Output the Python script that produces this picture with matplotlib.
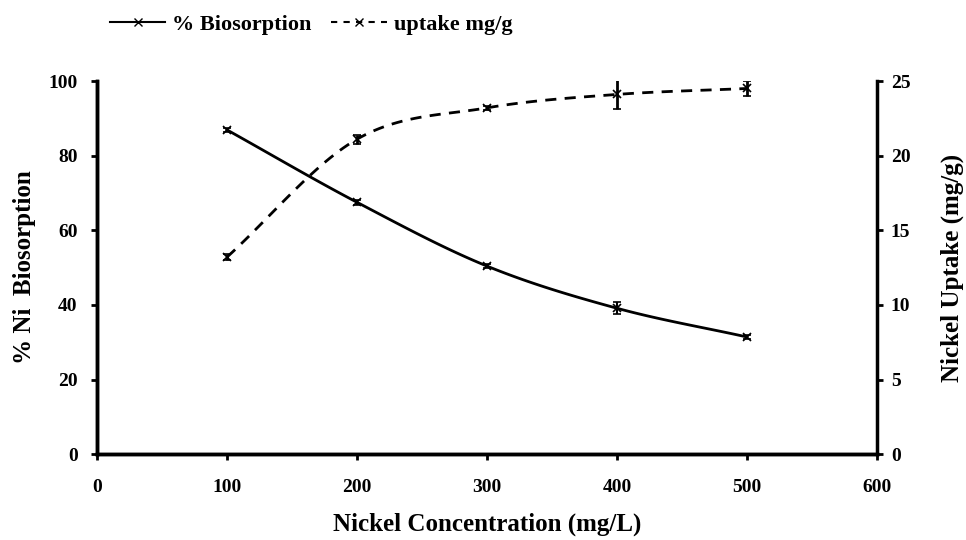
import matplotlib.pyplot as plt
import numpy as np

conc = [100, 200, 300, 400, 500]
biosorption = [86.9, 67.5, 50.4, 39.1, 31.4]
biosorption_err = [0.6, 0.6, 0.5, 1.6, 0.6]
uptake = [13.2, 21.1, 23.2, 24.1, 24.5]
uptake_err = [0.2, 0.3, 0.15, 1.0, 0.5]


def smooth(x, y, n=30):
    # Catmull-Rom curve through the points, like Excel's smoothed line
    x = np.asarray(x, float)
    y = np.asarray(y, float)
    px = np.concatenate([[2 * x[0] - x[1]], x, [2 * x[-1] - x[-2]]])
    py = np.concatenate([[2 * y[0] - y[1]], y, [2 * y[-1] - y[-2]]])
    xs, ys = [], []
    t = np.linspace(0, 1, n)
    for i in range(1, len(px) - 2):
        for p, out in ((px, xs), (py, ys)):
            p0, p1, p2, p3 = p[i - 1], p[i], p[i + 1], p[i + 2]
            out.extend(0.5 * (2 * p1 + (-p0 + p2) * t
                              + (2 * p0 - 5 * p1 + 4 * p2 - p3) * t ** 2
                              + (-p0 + 3 * p1 - 3 * p2 + p3) * t ** 3))
    return np.array(xs), np.array(ys)


plt.rcParams['font.family'] = 'Liberation Serif'
plt.rcParams['font.weight'] = 'bold'

fig = plt.figure(figsize=(9.66, 5.4), dpi=100)
ax = fig.add_axes([0.1004, 0.159, 0.8074, 0.691])
ax2 = ax.twinx()

sx, sy = smooth(conc, biosorption)
ax.plot(sx, sy, color='black', lw=2)
ax.errorbar(conc, biosorption, yerr=biosorption_err, fmt='x', color='black',
            ms=6, mew=1.2, capsize=3, elinewidth=1.5, capthick=1.5)

ux, uy = smooth(conc, uptake)
ax2.plot(ux, uy, color='black', lw=2, ls=(0, (4, 3)))
ax2.errorbar(conc, uptake, yerr=uptake_err, fmt='x', color='black',
             ms=6, mew=1.2, capsize=3, elinewidth=2, capthick=2)

# legend handles
h1, = ax.plot([], [], color='black', lw=1.5, marker='x', ms=6)
h2, = ax.plot([], [], color='black', lw=1.5, ls=(0, (3, 3)), marker='x', ms=6)
fig.legend([h1, h2], ['% Biosorption', 'uptake mg/g'], ncol=2, frameon=False,
           loc='center', bbox_to_anchor=(0.322, 0.955), fontsize=16,
           handlelength=2.5, columnspacing=0.9, handletextpad=0.3)

ax.set_xlim(0, 600)
ax.set_ylim(0, 100)
ax2.set_ylim(0, 25)
ax.set_xticks(range(0, 601, 100))
ax.set_yticks(range(0, 101, 20))
ax2.set_yticks(range(0, 26, 5))

for a in (ax, ax2):
    a.spines['top'].set_visible(False)
    for s in a.spines.values():
        s.set_linewidth(2.5)
    a.tick_params(width=2, length=4, labelsize=14)
ax.spines['right'].set_visible(False)
ax.tick_params(axis='x', pad=14)
ax.tick_params(axis='y', pad=10)
ax2.tick_params(axis='y', pad=6)

ax.set_xlabel('Nickel Concentration (mg/L)', fontsize=18, fontweight='bold', labelpad=12)
ax.set_ylabel('% Ni  Biosorption', fontsize=18, fontweight='bold', labelpad=9)
ax2.set_ylabel('Nickel Uptake (mg/g)', fontsize=18, fontweight='bold', labelpad=22)

fig.savefig('out.png', dpi=100)
